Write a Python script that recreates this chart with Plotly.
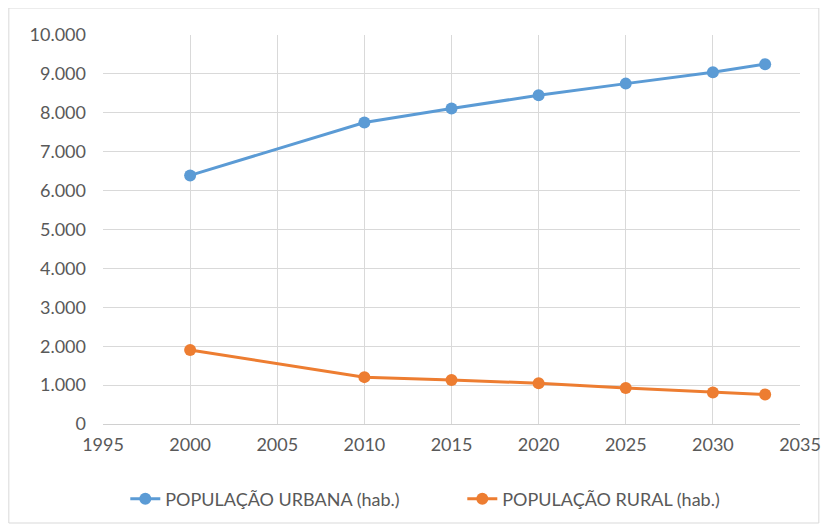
import plotly.graph_objects as go

years = [2000, 2010, 2015, 2020, 2025, 2030, 2033]
urbana = [6390, 7750, 8110, 8450, 8750, 9040, 9250]
rural = [1900, 1205, 1130, 1050, 925, 810, 760]
names = ["POPULAÇÃO URBANA (hab.)", "POPULAÇÃO RURAL (hab.)"]

fig = go.Figure()
fig.add_trace(go.Scatter(x=years, y=urbana, name=names[0], mode="lines+markers",
                         line=dict(color="#5B9BD5", width=3),
                         marker=dict(size=12, color="#5B9BD5")))
fig.add_trace(go.Scatter(x=years, y=rural, name=names[1], mode="lines+markers",
                         line=dict(color="#ED7D31", width=3),
                         marker=dict(size=12, color="#ED7D31")))

fig.update_layout(
    width=825, height=522,
    margin=dict(l=95, r=27, t=27, b=106),
    paper_bgcolor="white", plot_bgcolor="white",
    separators=",.",
    font=dict(family="Lato, Open Sans, sans-serif", size=18, color="#595959"),
    xaxis=dict(range=[1995, 2035], dtick=5, tick0=1995, tickformat="d",
               showgrid=True, gridcolor="#d9d9d9", gridwidth=1,
               zeroline=False, showline=True, linecolor="#d0d0d0",
               ticks="", ticklabelstandoff=4),
    yaxis=dict(range=[0, 10000], dtick=1000, tickformat=",d",
               showgrid=True, gridcolor="#d9d9d9", gridwidth=1,
               zeroline=False, showline=False, ticks="", ticklabelstandoff=16),
    legend=dict(orientation="h", x=0.032, xanchor="left", y=-0.193, yanchor="middle",
                font=dict(size=18, color="#595959"), entrywidth=292,
                tracegroupgap=0),
    showlegend=True,
    shapes=[dict(type="rect", xref="paper", yref="paper",
                 x0=-0.1351, x1=1.0270, y0=-0.2545, y1=1.0694,
                 line=dict(color="#d9d9d9", width=1), layer="below")],
)

fig.write_html("out.html")
